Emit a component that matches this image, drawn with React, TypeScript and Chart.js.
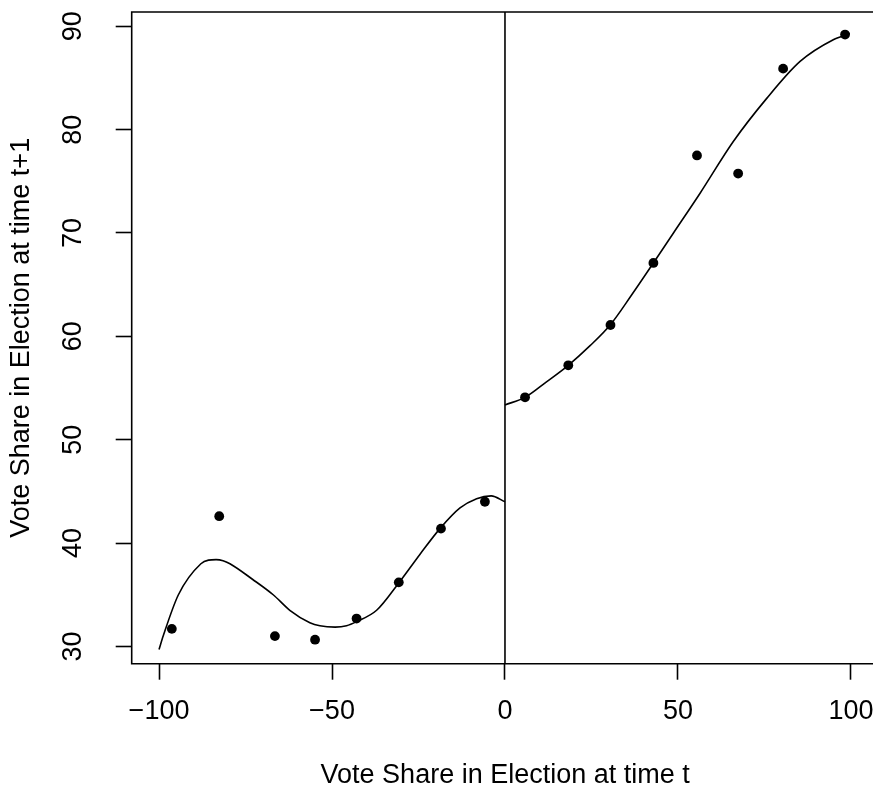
import React, { useEffect, useRef } from "react";
import { Chart, registerables } from "chart.js";

Chart.register(...registerables);

// Observed data points (Vote share at t vs t+1)
const leftX = [-96.3, -82.6, -66.5, -54.9, -42.9, -30.7, -18.5, -5.8];
const leftY = [31.7, 42.6, 31.0, 30.65, 32.7, 36.2, 41.4, 44.0];
const rightX = [5.8, 18.3, 30.5, 42.9, 55.5, 67.4, 80.4, 98.3];
const rightY = [54.1, 57.2, 61.1, 67.1, 77.5, 75.75, 85.9, 89.2];

// Fitted curve readings (left of cutoff)
const fitLeftX = [-100, -98.8, -94.4, -87.9, -85.7, -83.5, -81.5, -79.5, -73.0, -67.0, -62.2, -56.4, -53.5, -49.1, -45.8, -42.9, -37.1, -30.8, -24.6, -18.8, -13.0, -8.2, -4.0, 0];
const fitLeftY = [29.7, 31.0, 35.0, 38.0, 38.35, 38.4, 38.3, 38.0, 36.5, 35.0, 33.5, 32.3, 32.0, 31.87, 32.0, 32.4, 33.5, 36.1, 38.9, 41.4, 43.4, 44.3, 44.57, 44.0];
// Fitted curve readings (right of cutoff)
const fitRightX = [0, 5.8, 12.0, 18.3, 24.6, 30.4, 36.6, 42.9, 48.7, 56.4, 66.0, 75.6, 85.3, 94.9, 99.7];
const fitRightY = [53.37, 54.1, 55.6, 57.2, 59.1, 61.1, 64.0, 67.1, 70.0, 73.85, 78.85, 83.0, 86.6, 88.7, 89.3];

const xTicks = [-100, -50, 0, 50, 100];
const yTicks = [30, 40, 50, 60, 70, 80, 90];
const xRange = [-107.9, 108];
const yRange = [28.33, 91.38];
const cutoff = 0;

const xTitle = "Vote Share in Election at time t";
const yTitle = "Vote Share in Election at time t+1";

const FONT = "'Liberation Sans', Arial, Helvetica, sans-serif";
const FSIZE = 27;

const fmt = (v: number) => (v < 0 ? "\u2212" + Math.abs(v) : String(v));

export default function App() {
  const ref = useRef<HTMLCanvasElement | null>(null);
  useEffect(() => {
    document.body.style.margin = "0";
    const canvas = ref.current!;
    const zip = (xs: number[], ys: number[]) => xs.map((x, i) => ({ x, y: ys[i] }));

    const boxPlugin = {
      id: "rbox",
      afterDraw(chart: any) {
        const { ctx, chartArea } = chart;
        ctx.save();
        ctx.strokeStyle = "#000";
        ctx.lineWidth = 1.6;
        ctx.beginPath();
        ctx.moveTo(chartArea.right + 2, chartArea.top);
        ctx.lineTo(chartArea.left, chartArea.top);
        ctx.lineTo(chartArea.left, chartArea.bottom);
        ctx.lineTo(chartArea.right + 2, chartArea.bottom);
        ctx.stroke();
        // y tick labels, rotated like R (parallel to axis)
        const ys = chart.scales.y;
        ctx.fillStyle = "#000";
        ctx.font = `${FSIZE}px ${FONT}`;
        ctx.textAlign = "center";
        ctx.textBaseline = "alphabetic";
        for (const t of ys.ticks) {
          const py = ys.getPixelForValue(t.value);
          ctx.save();
          ctx.translate(81, py);
          ctx.rotate(-Math.PI / 2);
          ctx.fillText(fmt(t.value), 0, 0);
          ctx.restore();
        }
        ctx.restore();
      },
    };

    const lineDs = (label: string, data: any[], smooth: boolean) => ({
      type: "line" as const,
      label,
      data,
      borderColor: "#000",
      borderWidth: 1.6,
      pointRadius: 0,
      tension: 0,
      cubicInterpolationMode: smooth ? ("monotone" as const) : ("default" as const),
    });

    const chart = new Chart(canvas, {
      type: "scatter",
      data: {
        datasets: [
          lineDs("cutoff", [{ x: cutoff, y: yRange[0] }, { x: cutoff, y: yRange[1] }], false),
          lineDs("fit left", zip(fitLeftX, fitLeftY), true),
          lineDs("fit right", zip(fitRightX, fitRightY), true),
          {
            label: "left",
            data: zip(leftX, leftY),
            backgroundColor: "#000",
            borderWidth: 0,
            pointRadius: 4.9,
          },
          {
            label: "right",
            data: zip(rightX, rightY),
            backgroundColor: "#000",
            borderWidth: 0,
            pointRadius: 4.9,
          },
        ] as any,
      },
      options: {
        animation: false,
        responsive: false,
        events: [],
        layout: { padding: { top: 12, right: 11.4, left: 0, bottom: 0 } },
        plugins: { legend: { display: false }, tooltip: { enabled: false }, title: { display: false } },
        scales: {
          x: {
            type: "linear",
            min: xRange[0],
            max: xRange[1],
            border: { display: false },
            afterBuildTicks: (s: any) => {
              s.ticks = xTicks.map((v) => ({ value: v }));
            },
            afterFit: (s: any) => {
              s.height = 800 - 663.7;
            },
            grid: { drawOnChartArea: false, drawTicks: true, tickLength: 16, tickColor: "#000", tickWidth: 1.6 },
            ticks: {
              color: "#000",
              font: { family: FONT, size: FSIZE },
              padding: 16,
              maxRotation: 0,
              minRotation: 0,
              autoSkip: false,
              callback: (v: any) => fmt(Number(v)),
            },
            title: {
              display: true,
              text: xTitle,
              color: "#000",
              font: { family: FONT, size: FSIZE },
              padding: { top: 0, bottom: 8 },
            },
          },
          y: {
            type: "linear",
            min: yRange[0],
            max: yRange[1],
            border: { display: false },
            afterBuildTicks: (s: any) => {
              s.ticks = yTicks.map((v) => ({ value: v }));
            },
            afterFit: (s: any) => {
              s.width = 131.7;
            },
            grid: { drawOnChartArea: false, drawTicks: true, tickLength: 16, tickColor: "#000", tickWidth: 1.6 },
            ticks: { display: false },
            title: {
              display: true,
              text: yTitle,
              color: "#000",
              font: { family: FONT, size: FSIZE },
              padding: { top: 5.4, bottom: 0 },
            },
          },
        },
      },
      plugins: [boxPlugin],
    });
    return () => chart.destroy();
  }, []);

  return (
    <div style={{ position: "fixed", left: 0, top: 0, width: 873, height: 787, overflow: "hidden", background: "#fff" }}>
      <canvas ref={ref} width={890} height={800} style={{ display: "block" }} />
    </div>
  );
}
